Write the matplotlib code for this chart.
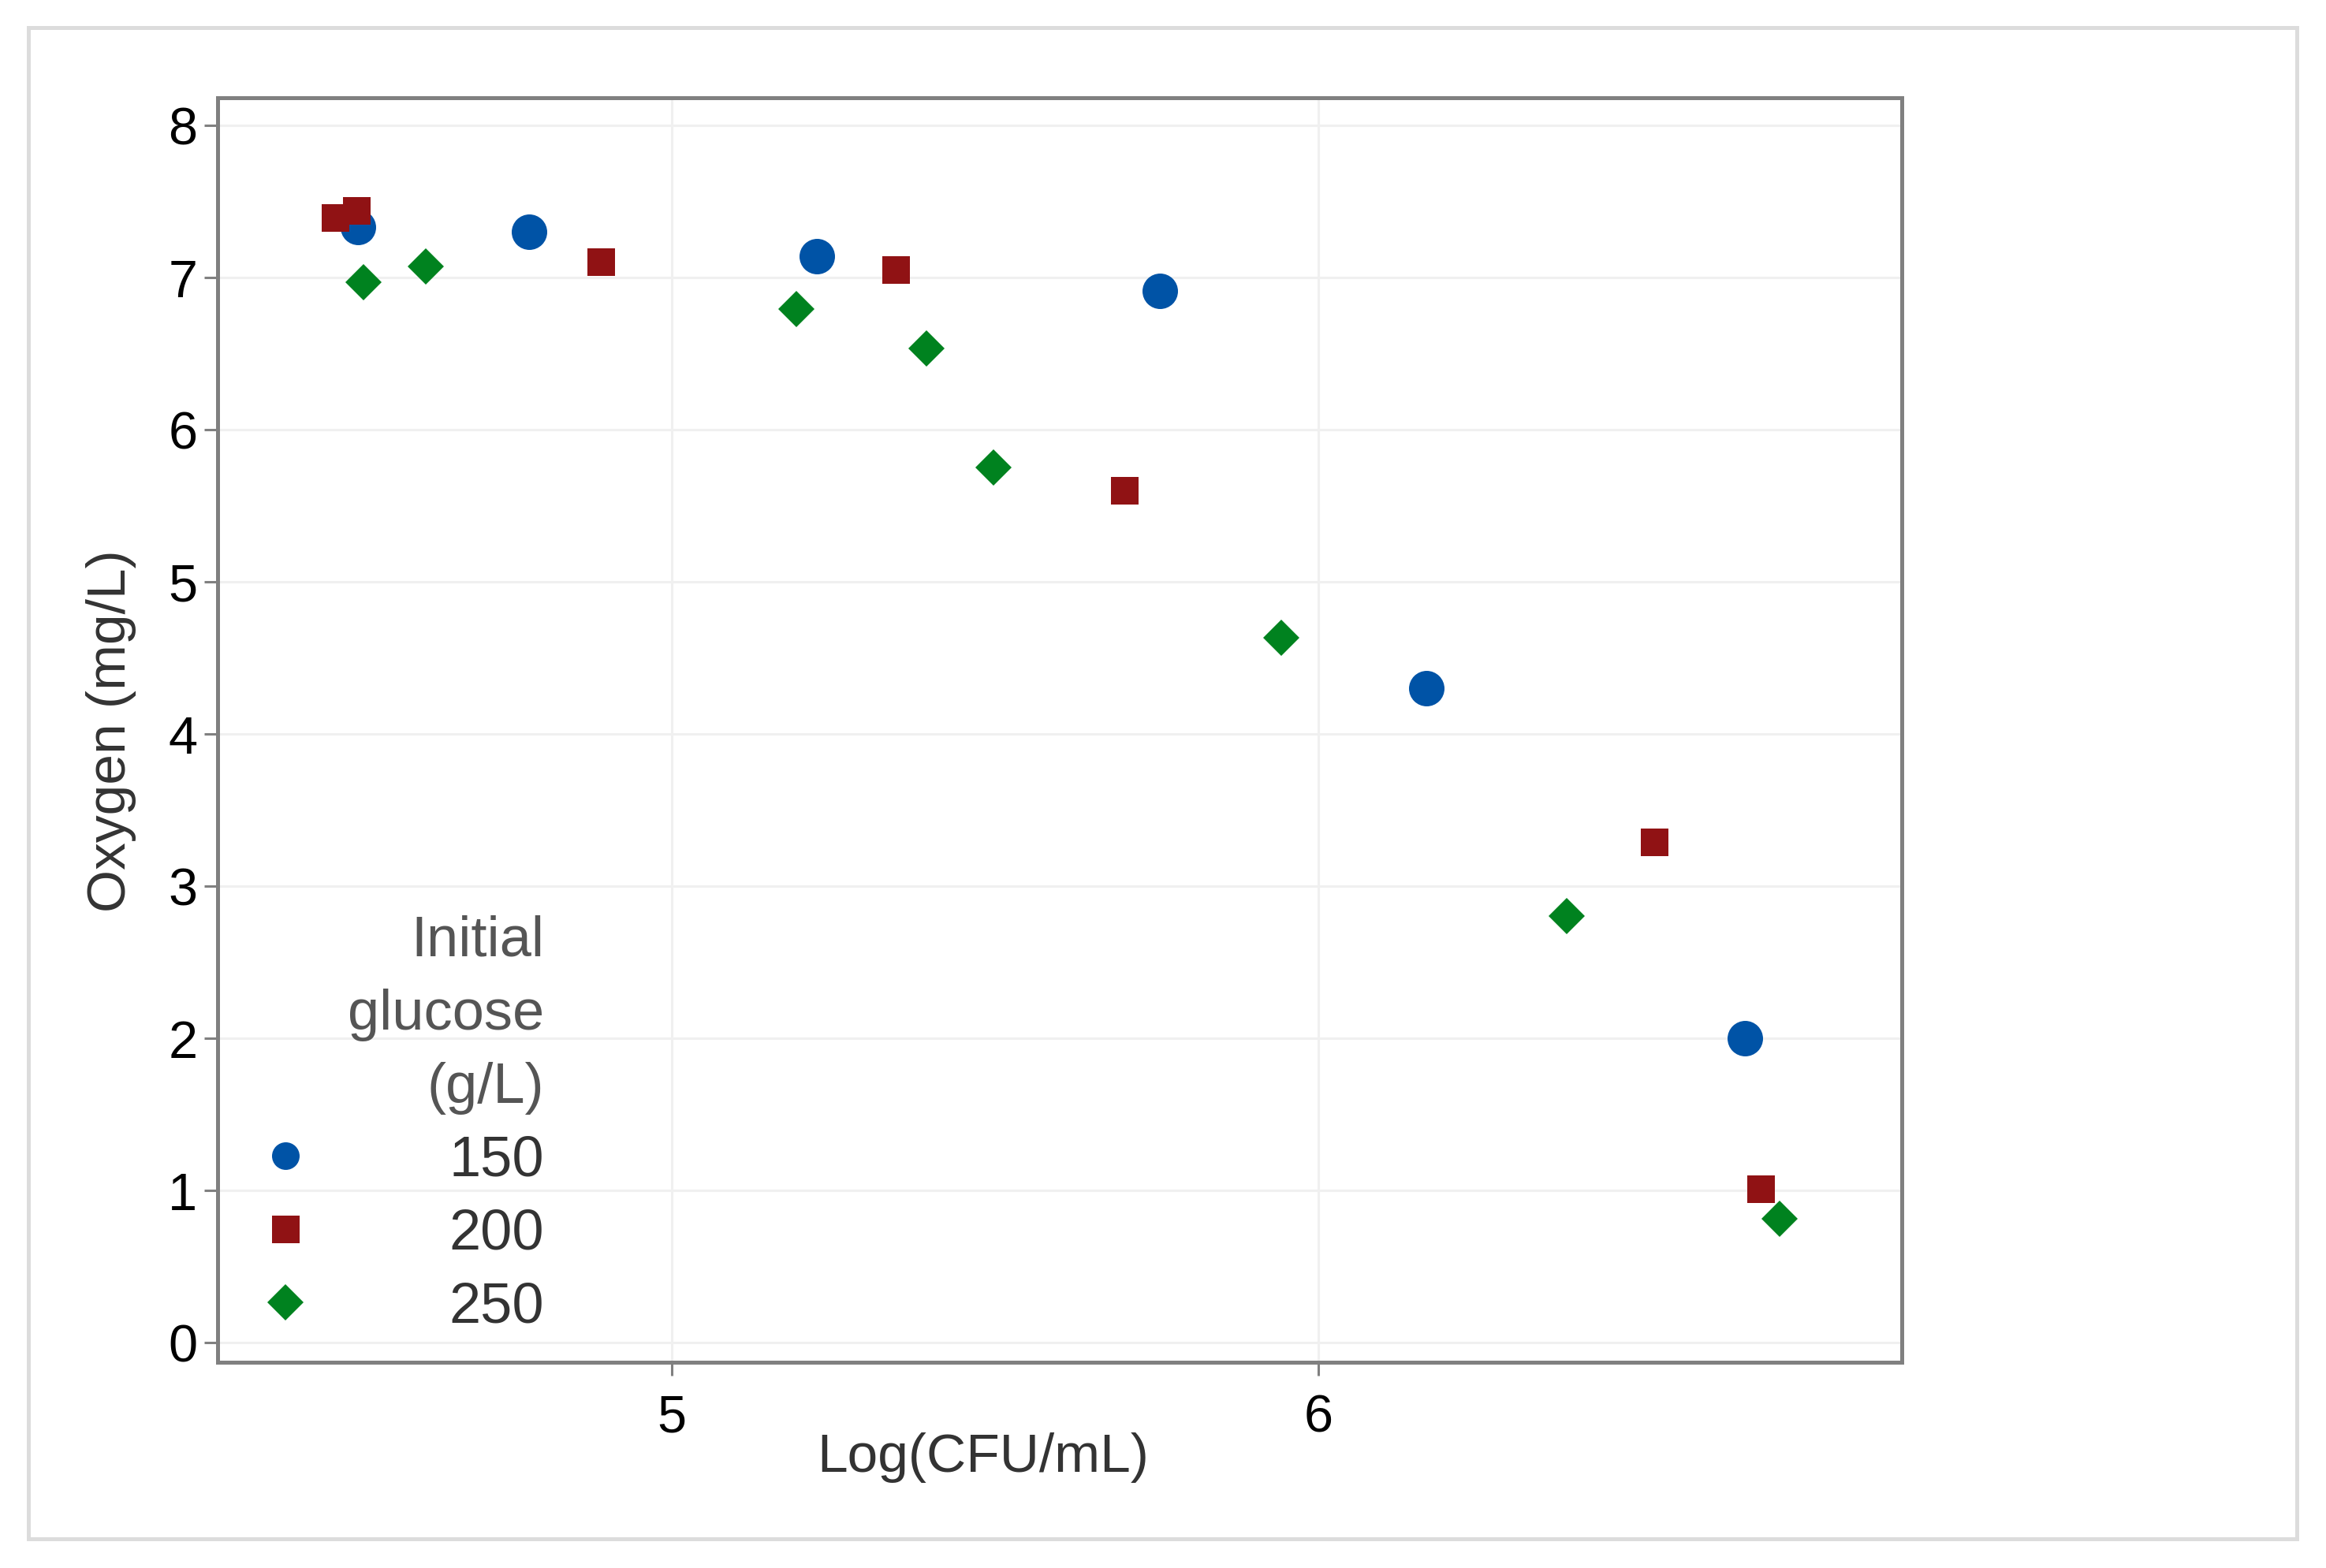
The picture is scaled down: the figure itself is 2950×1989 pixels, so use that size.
import numpy as np
import matplotlib
matplotlib.use('Agg')
import matplotlib.pyplot as plt
from matplotlib.patches import Rectangle

plt.rcParams['font.family'] = ['Liberation Sans', 'DejaVu Sans']

# data: log(CFU/mL) vs dissolved oxygen (mg/L)
x_150 = [4.515, 4.78, 5.225, 5.755, 6.167, 6.659]
y_150 = [7.33, 7.30, 7.14, 6.91, 4.30, 2.00]

x_200 = [4.48, 4.512, 4.89, 5.346, 5.70, 6.519, 6.684]
y_200 = [7.39, 7.44, 7.10, 7.05, 5.60, 3.29, 1.01]

x_250 = [4.523, 4.62, 5.193, 5.394, 5.498, 5.943, 6.384, 6.713]
y_250 = [6.97, 7.07, 6.79, 6.53, 5.75, 4.63, 2.80, 0.81]

glucose = ['150', '200', '250']
x_ticks = [5, 6]
y_ticks = [0, 1, 2, 3, 4, 5, 6, 7, 8]

fig = plt.figure(figsize=(14.75, 9.95), dpi=200)
ax = fig.add_axes([0.0936, 0.1312, 0.8176 - 0.0936, 0.9372 - 0.1312])

# light frame around the whole picture
fig.patches.append(Rectangle((0.0122, 0.0186), 0.9875 - 0.0122, 0.982 - 0.0186,
                             transform=fig.transFigure, fill=False,
                             ec='#dcdcdc', lw=1.8))

ax.plot(x_150, y_150, 'o', color='#0053a6', ms=16.2, mew=0, label=glucose[0])
ax.plot(x_200, y_200, 's', color='#901214', ms=12.6, mew=0, label=glucose[1])
ax.plot(x_250, y_250, 'D', color='#00821f', ms=11.5, mew=0, label=glucose[2])

ax.set_xlim(4.298, 6.902)
ax.set_ylim(-0.13, 8.18)
ax.set_xticks(x_ticks)
ax.set_yticks(y_ticks)

ax.grid(True, color='#f0f0f0', lw=1.1)
ax.set_axisbelow(True)
for s in ax.spines.values():
    s.set_color('#808080')
    s.set_linewidth(1.8)
ax.tick_params(colors='#808080', length=6.1, width=1.1, labelcolor='black',
               labelsize=24)
ax.tick_params(axis='y', pad=3.2)
ax.tick_params(axis='x', pad=8.3)

ax.set_xlabel('Log(CFU/mL)', fontsize=25, color='#333333')
ax.set_ylabel('Oxygen (mg/L)', fontsize=25, color='#333333')
ax.xaxis.set_label_coords(0.4546, -0.0549)
ax.yaxis.set_label_coords(-0.0482, 0.5)

leg = ax.legend(title='Initial\nglucose\n(g/L)', loc='lower left',
                bbox_to_anchor=(0.0062, 0.0), frameon=False,
                alignment='right', borderpad=0, handlelength=1.0,
                handletextpad=2.38, labelspacing=0.36, fontsize=26,
                title_fontsize=26, labelcolor='#333333')
leg.get_title().set_color('#555555')
leg.get_title().set_multialignment('right')
leg.get_title().set_linespacing(1.5)
leg.legend_handles[0].set_markersize(12.6)

fig.savefig('out.png', dpi=200)
